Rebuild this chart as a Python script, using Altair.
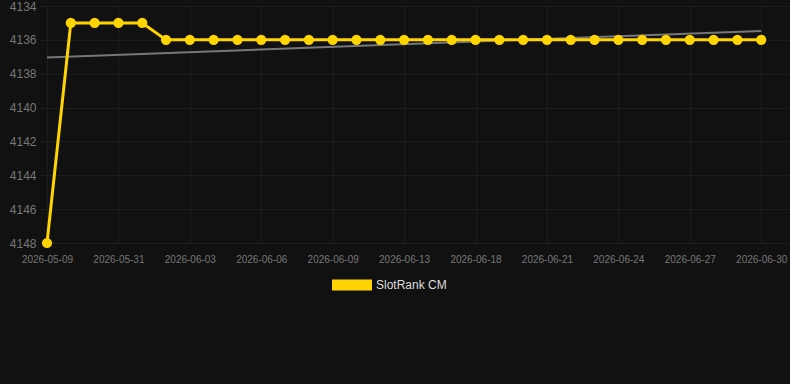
import altair as alt
import pandas as pd

dates = ["2026-05-09", "2026-05-16", "2026-05-24", "2026-05-31", "2026-06-01", "2026-06-02",
         "2026-06-03", "2026-06-04", "2026-06-05", "2026-06-06", "2026-06-07", "2026-06-08",
         "2026-06-09", "2026-06-10", "2026-06-12", "2026-06-13", "2026-06-15", "2026-06-16",
         "2026-06-18", "2026-06-19", "2026-06-20", "2026-06-21", "2026-06-22", "2026-06-23",
         "2026-06-24", "2026-06-25", "2026-06-26", "2026-06-27", "2026-06-28", "2026-06-29",
         "2026-06-30"]
ranks = [4148, 4135, 4135, 4135, 4135] + [4136] * 26
series = "SlotRank CM"
y_ticks = [4134, 4136, 4138, 4140, 4142, 4144, 4146, 4148]
x_ticks = list(range(0, 31, 3))

df = pd.DataFrame({"idx": list(range(len(dates))), "date": dates, "rank": ranks, "series": series})

gold = "#FFD400"
grid = "#1d1d1d"
label_expr = "[" + ",".join(f"'{d}'" for d in dates) + "][datum.value]"

x = alt.X("idx:Q", scale=alt.Scale(domain=[-0.294, 31.21], nice=False, zero=False),
          axis=alt.Axis(values=x_ticks, labelExpr=label_expr, title=None, ticks=False,
                        domain=False, labelFontSize=10, labelColor="#777", labelPadding=11,
                        gridColor=grid, labelFont="Liberation Sans"))
y = alt.Y("rank:Q", scale=alt.Scale(domain=[4134, 4148], reverse=True, nice=False, zero=False),
          axis=alt.Axis(values=y_ticks, format="d", title=None, ticks=False, domain=False,
                        labelFontSize=12, labelColor="#777", labelPadding=4,
                        gridColor=grid, labelFont="Liberation Sans"))

base = alt.Chart(df)

trend = base.transform_regression("idx", "rank", method="linear").mark_line(
    color="#777", strokeWidth=2).encode(x=x, y=y)

color = alt.Color("series:N", scale=alt.Scale(domain=[series], range=[gold]),
                  legend=alt.Legend(title=None, orient="none", legendX=292, legendY=259,
                                    direction="horizontal",
                                    symbolType="M-1,-0.275L1,-0.275L1,0.275L-1,0.275Z",
                                    symbolSize=1600, symbolStrokeWidth=0,
                                    labelColor="#ddd", labelFontSize=12,
                                    labelFont="Liberation Sans"))

line = base.mark_line(strokeWidth=3, color=gold).encode(x=x, y=y)
points = base.mark_circle(size=105, opacity=1).encode(x=x, y=y, color=color)

chart = alt.layer(trend, line, points).properties(
    width=750, height=237,
    background="#111111",
    padding={"left": 40, "top": 6, "right": 0, "bottom": 141},
    autosize=alt.AutoSizeParams(type="none"),
).configure_view(stroke=None)

chart.save("out.html", embed_options={"renderer": "svg", "actions": False})
